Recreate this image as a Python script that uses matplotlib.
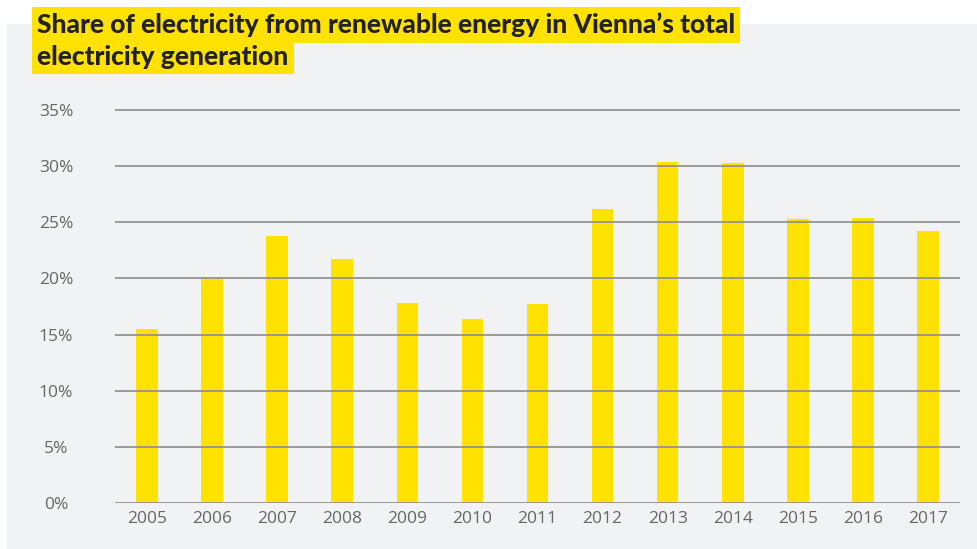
import matplotlib
matplotlib.use("Agg")
import matplotlib.pyplot as plt
from matplotlib.patches import Rectangle

years = ["2005", "2006", "2007", "2008", "2009", "2010", "2011",
         "2012", "2013", "2014", "2015", "2016", "2017"]
share = [15.5, 20.1, 23.8, 21.7, 17.8, 16.4, 17.7, 26.2, 30.4, 30.3, 25.3, 25.4, 24.2]
yticks = [0, 5, 10, 15, 20, 25, 30, 35]
title_lines = ["Share of electricity from renewable energy in Vienna\u2019s total",
               "electricity generation"]

W, H = 978, 549
YELLOW = "#FFE200"
PANEL = "#F1F2F4"

fig = plt.figure(figsize=(W / 100, H / 100), dpi=100)
fig.patch.set_facecolor("white")
fig.patches.append(Rectangle((7 / W, 0), 1 - 7 / W, 1 - 24 / H, transform=fig.transFigure,
                             facecolor=PANEL, edgecolor="none", zorder=-5))

ytop = 35.3
bottom = 46 / H
h_px = 393 * ytop / 35
ax = fig.add_axes([115 / W, bottom, (960 - 115) / W, h_px / H], zorder=2)
ax.set_facecolor("none")
x = range(len(years))
ax.bar(x, share, width=0.33, color=YELLOW, zorder=2)
ax.set_xlim(-0.49, len(years) - 0.51)
ax.set_ylim(0, ytop)
ax.set_yticks(yticks)
ax.set_yticklabels([f"{v}%" for v in yticks])
ax.set_xticks(list(x))
ax.set_xticklabels(years)
ax.grid(axis="y", color="#939393", lw=1.3, zorder=3)
ax.set_axisbelow(False)
for s in ax.spines.values():
    s.set_visible(False)
ax.tick_params(axis="both", length=0, labelsize=12.5, labelcolor="#666666")
ax.tick_params(axis="y", pad=42.5)
ax.tick_params(axis="x", pad=6)
for lbl in ax.get_xticklabels() + ax.get_yticklabels():
    lbl.set_fontfamily("Open Sans")
for lbl in ax.get_yticklabels():
    lbl.set_horizontalalignment("center")

# title with highlighted background
tkw = dict(fontsize=19, fontweight="black", color="#222222", family="Lato",
           ha="left", va="center",
           bbox=dict(facecolor=YELLOW, edgecolor="none", boxstyle="square,pad=0.2"))
fig.text(37 / W, 1 - 25 / H, title_lines[0], **tkw)
fig.text(37 / W, 1 - 57 / H, title_lines[1], **tkw)

fig.savefig("out.png", dpi=100)
